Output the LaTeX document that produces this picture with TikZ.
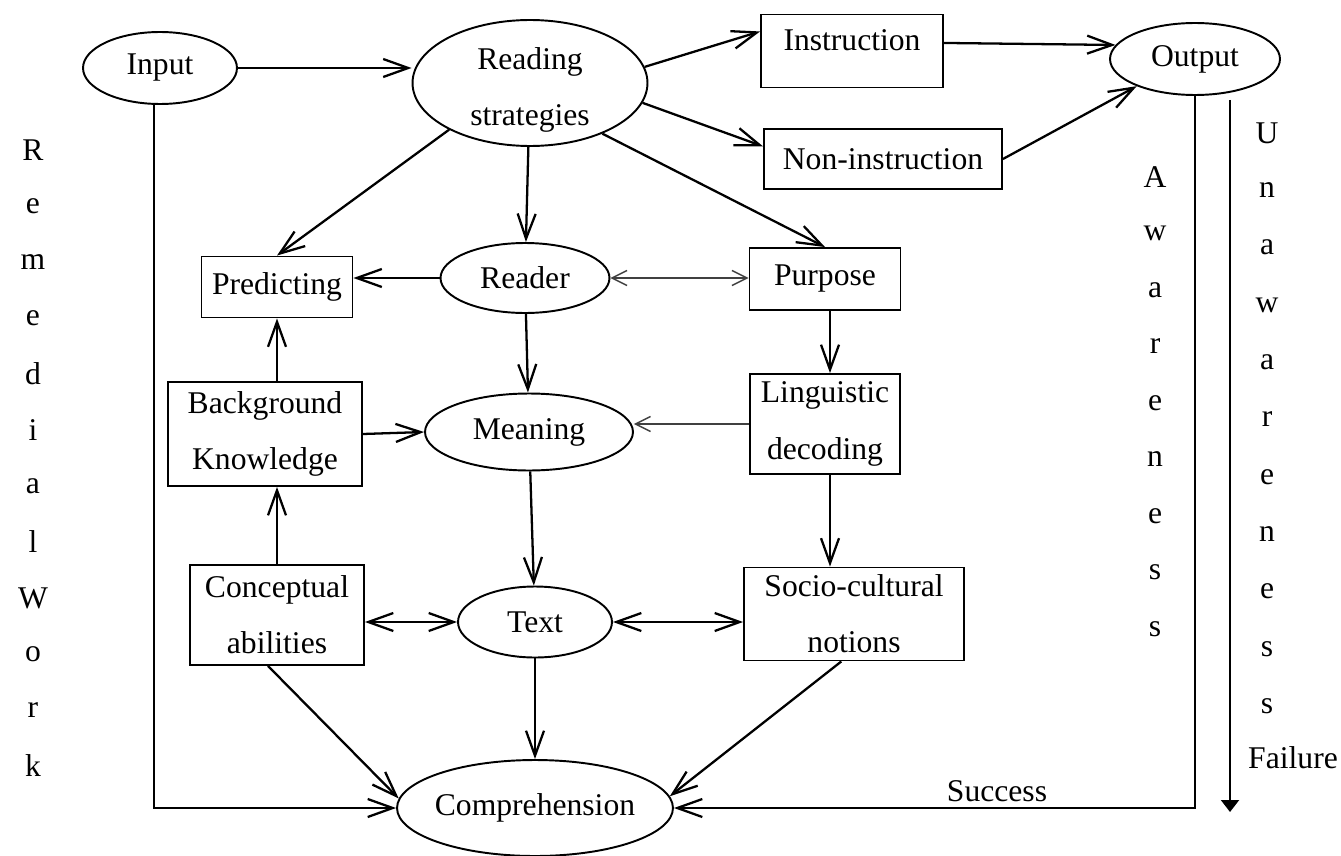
\documentclass[tikz,border=0pt]{standalone}
\usepackage{fontspec}
\setmainfont{Liberation Serif}
\usetikzlibrary{shapes.geometric,arrows.meta}

\begin{document}
\begin{tikzpicture}[x=0.02cm,y=-0.02cm,
  font=\fontsize{18}{32}\selectfont,
  >={Straight Barb[length=0.5cm,width=0.36cm]},
  box/.style={draw,line width=1.1pt,inner sep=0pt,align=center},
  oval/.style={draw,ellipse,line width=1.1pt,inner sep=0pt,align=center},
  arr/.style={->,line width=1.3pt},
  dbl/.style={<->,line width=1.3pt},
  light/.style={line width=0.8pt,black!75,>={Straight Barb[length=0.3cm,width=0.3cm]}}]
\useasboundingbox (0,0) rectangle (1341,855);

\node[oval,minimum width=3.08cm,minimum height=1.44cm] (input) at (160,68) {Input};
\node[oval,minimum width=4.7cm,minimum height=2.52cm] (reading) at (530,83) {\raisebox{-0.14cm}[\height][\depth]{Reading}\\\raisebox{-0.14cm}[\height][\depth]{strategies}};
\node[box,minimum width=3.64cm,minimum height=1.46cm,text depth=0.45cm] (instr) at (852,51) {Instruction};
\node[box,minimum width=4.76cm,minimum height=1.2cm] (noninstr) at (883,159) {Non-instruction};
\node[oval,minimum width=3.4cm,minimum height=1.44cm] (output) at (1195,59) {Output};
\node[box,minimum width=3.02cm,minimum height=1.22cm] (predict) at (277,287) {Predicting};
\node[oval,minimum width=3.38cm,minimum height=1.4cm] (reader) at (525,278) {Reader};
\node[box,minimum width=3.02cm,minimum height=1.24cm] (purpose) at (825,279) {Purpose};
\node[box,minimum width=3.88cm,minimum height=2.08cm] (backgr) at (265,434) {Background\\Knowledge};
\node[oval,minimum width=4.16cm,minimum height=1.54cm] (meaning) at (529,432) {Meaning};
\node[box,minimum width=3cm,minimum height=2cm] (ling) at (825,424) {Linguistic\\decoding};
\node[box,minimum width=3.48cm,minimum height=2cm] (concept) at (277,615) {Conceptual\\abilities};
\node[oval,minimum width=3.08cm,minimum height=1.42cm] (textn) at (535,622) {Text};
\node[box,minimum width=4.4cm,minimum height=1.86cm] (socio) at (854,614) {Socio-cultural\\notions};
\node[oval,minimum width=5.52cm,minimum height=1.92cm,inner xsep=-0.15cm] (compr) at (535,808) {Comprehension};

\draw[arr] (input.east) -- (input.east -| reading.west);
\draw[arr] (reading.8) -- (instr.168);
\draw[arr] (reading.-10) -- (noninstr.174);
\draw[arr] (reading.-35) -- (purpose.north);
\draw[arr] (reading.-150) -- (predict.north);
\draw[arr] (reading) -- (reader);
\draw[arr] (instr.5) -- (output.170);
\draw[arr] (noninstr.east) -- (output.-155);
\draw[arr] (reader.west) -- (reader.west -| predict.east);
\draw[light,<->] (reader.east) -- (reader.east -| purpose.west);
\draw[arr] (reader) -- (meaning);
\draw[arr] ([xshift=0.1cm]purpose.south) -- ([xshift=0.1cm]ling.north);
\draw[light,->] (ling.west) -- (ling.west -| meaning.east);
\draw[arr] (backgr.east) -- (meaning.west);
\draw[arr] (backgr.north -| predict.south) -- (predict.south);
\draw[arr] (concept.north) -- (backgr.south -| concept.north);
\draw[dbl] (concept.east |- textn.west) -- (textn.west);
\draw[dbl] (textn.east) -- (textn.east -| socio.west);
\draw[arr] (meaning) -- (textn);
\draw[arr] ([xshift=0.1cm]ling.south) -- ([xshift=0.1cm]ling.south |- socio.north);
\draw[arr] (concept.-100) -- (compr.176);
\draw[arr] (textn) -- (compr);
\draw[arr] (socio.-105) -- (compr.5);
\draw[arr] ([xshift=-0.12cm]input.south) |- (compr.west);
\draw[arr] (output.south) |- (compr.east) node[above,pos=0.69,inner sep=3pt] (success) {Success};

\coordinate (unaw top) at (1230,100);
\coordinate (unaw end) at (1230,812);
\draw[line width=1.1pt,-{Stealth[length=0.24cm,width=0.36cm,inset=0pt]}] (unaw top) -- (unaw end);

\foreach \ch [count=\i] in {R,e,m,e,d,i,a,l,W,o,r,k}{
  \node (rw\i) at (33,{150+56*(\i-1)}) {\ch};
}
\foreach \ch [count=\i] in {A,w,a,r,e,n,e,s,s}{
  \node (aw\i) at (1155,{177+56.5*(\i-1)}) {\ch};
}
\foreach \ch [count=\i] in {U,n,a,w,a,r,e,n,e,s,s}{
  \node (un\i) at (1267,{133+57.3*(\i-1)}) {\ch};
}
\node (failure) at (1293,758) {Failure};
\end{tikzpicture}
\end{document}
